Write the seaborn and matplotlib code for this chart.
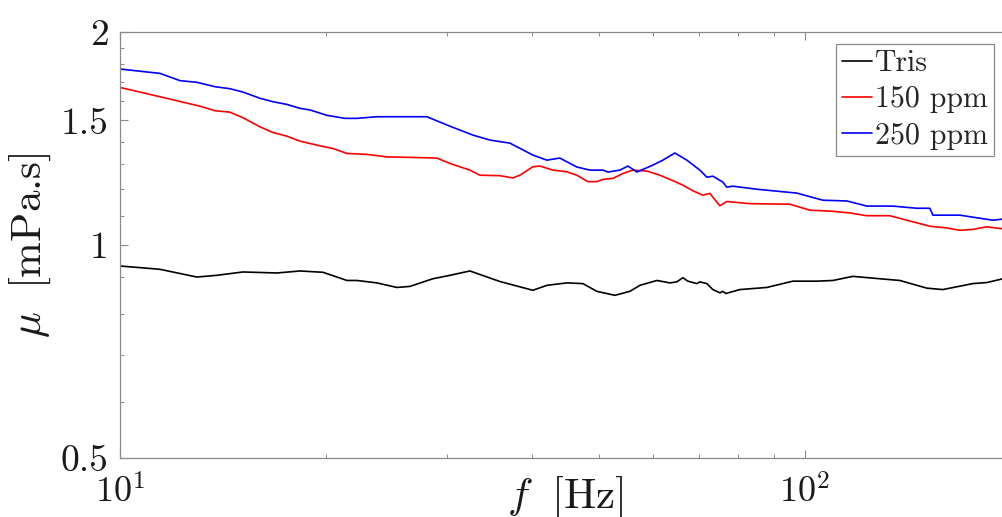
import matplotlib
matplotlib.use("Agg")
import numpy as np
import pandas as pd
import matplotlib.pyplot as plt
import seaborn as sns
from matplotlib.ticker import FixedLocator, FixedFormatter, NullFormatter, LogLocator

# Viscosity spectra (frequency in Hz, viscosity in mPa.s)
freq_tris = [10.0, 11.44, 12.95, 13.84, 15.12, 16.95, 18.32, 19.79, 21.45, 22.18,
             23.72, 25.37, 26.51, 28.63, 30.32, 32.43, 35.87, 40.08, 42.01, 44.93,
             47.41, 49.70, 52.80, 55.53, 57.43, 60.80, 63.52, 65.03, 66.35, 67.48,
             69.55, 70.26, 71.93, 73.40, 75.14, 75.91, 76.67, 80.36, 88.00, 96.05,
             104.1, 109.9, 117.5, 128.7, 137.6, 150.7, 159.0, 175.9, 184.4, 194.6, 200.0]
mu_tris = [0.934, 0.924, 0.901, 0.906, 0.916, 0.913, 0.919, 0.915, 0.891, 0.891,
           0.884, 0.871, 0.874, 0.896, 0.906, 0.919, 0.888, 0.863, 0.877, 0.884,
           0.882, 0.860, 0.849, 0.860, 0.877, 0.891, 0.884, 0.887, 0.899, 0.889,
           0.882, 0.887, 0.882, 0.865, 0.856, 0.860, 0.854, 0.865, 0.871, 0.889,
           0.889, 0.891, 0.903, 0.896, 0.891, 0.869, 0.865, 0.882, 0.885, 0.896, 0.898]

freq_150 = [10.0, 11.44, 13.09, 13.76, 14.47, 15.12, 16.01, 16.73, 17.53, 18.32,
            19.39, 20.46, 21.45, 22.94, 24.54, 26.51, 29.02, 30.32, 32.43, 33.54,
            35.87, 37.47, 38.36, 40.08, 41.03, 42.86, 44.93, 46.46, 48.21, 49.70,
            50.72, 52.45, 54.25, 56.09, 58.79, 61.42, 64.16, 66.35, 68.62, 70.97,
            72.66, 75.14, 76.92, 83.11, 95.08, 101.7, 109.9, 116.3, 123.2, 133.1,
            140.9, 152.2, 161.2, 168.4, 175.9, 184.4, 194.6, 200.0]
mu_150 = [1.670, 1.620, 1.571, 1.548, 1.541, 1.513, 1.469, 1.442, 1.425, 1.402,
          1.384, 1.369, 1.347, 1.343, 1.332, 1.330, 1.327, 1.304, 1.276, 1.255,
          1.253, 1.244, 1.255, 1.290, 1.293, 1.276, 1.269, 1.255, 1.229, 1.229,
          1.238, 1.242, 1.262, 1.276, 1.272, 1.255, 1.233, 1.215, 1.193, 1.176,
          1.183, 1.136, 1.152, 1.144, 1.142, 1.120, 1.116, 1.110, 1.100, 1.100,
          1.084, 1.063, 1.057, 1.049, 1.052, 1.061, 1.054, 1.054]

freq_250 = [10.0, 11.44, 12.24, 12.95, 13.76, 14.47, 15.12, 16.01, 16.73, 17.53,
            18.32, 18.94, 20.05, 21.31, 22.18, 23.72, 25.63, 28.07, 30.32, 32.76,
            34.69, 37.10, 40.08, 42.01, 43.88, 46.46, 48.53, 50.72, 51.58, 53.70,
            55.16, 56.85, 59.99, 62.04, 64.60, 67.25, 70.26, 71.93, 73.40, 75.91,
            76.92, 78.50, 85.08, 97.34, 106.2, 115.2, 123.2, 134.4, 145.7, 152.2,
            153.8, 168.4, 188.1, 194.6, 200.0]
mu_250 = [1.773, 1.748, 1.707, 1.698, 1.674, 1.663, 1.645, 1.612, 1.594, 1.580,
          1.560, 1.552, 1.525, 1.510, 1.510, 1.518, 1.518, 1.518, 1.472, 1.430,
          1.407, 1.393, 1.340, 1.318, 1.327, 1.289, 1.276, 1.276, 1.268, 1.276,
          1.293, 1.268, 1.297, 1.318, 1.349, 1.318, 1.276, 1.247, 1.251, 1.227,
          1.207, 1.211, 1.199, 1.184, 1.157, 1.154, 1.135, 1.135, 1.127, 1.127,
          1.102, 1.102, 1.084, 1.088, 1.090]

series_labels = ["Tris", "150 ppm", "250 ppm"]
series_colors = ["black", "red", "blue"]

ytick_values = [0.5, 1, 1.5, 2]
ytick_labels = ["0.5", "1", "1.5", "2"]
xtick_values = [10, 100]
xtick_labels = [r"$10^{1}$", r"$10^{2}$"]

df = pd.concat([
    pd.DataFrame({"f": freq_tris, "mu": mu_tris, "sample": series_labels[0]}),
    pd.DataFrame({"f": freq_150, "mu": mu_150, "sample": series_labels[1]}),
    pd.DataFrame({"f": freq_250, "mu": mu_250, "sample": series_labels[2]}),
], ignore_index=True)

sns.set_style("ticks")
plt.rcParams["font.family"] = ["cmr10"]
plt.rcParams["mathtext.fontset"] = "cm"
plt.rcParams["axes.unicode_minus"] = False
plt.rcParams["axes.formatter.use_mathtext"] = True

fig = plt.figure(figsize=(10.03, 5.17), dpi=100)
ax = fig.add_axes([0.1196, 0.1141, 0.8884, 0.8240])

sns.lineplot(data=df, x="f", y="mu", hue="sample", hue_order=series_labels,
             palette=dict(zip(series_labels, series_colors)),
             estimator=None, sort=True, linewidth=1.2, legend=False, ax=ax)

ax.set_xscale("log")
ax.set_yscale("log")
ax.set_xlim(10, 200)
ax.set_ylim(0.5, 2)

ax.yaxis.set_major_locator(FixedLocator(ytick_values))
ax.yaxis.set_major_formatter(FixedFormatter(ytick_labels))
ax.yaxis.set_minor_locator(FixedLocator([0.6, 0.7, 0.8, 0.9, 1.1, 1.2, 1.3, 1.4,
                                         1.6, 1.7, 1.8, 1.9]))
ax.yaxis.set_minor_formatter(NullFormatter())
ax.xaxis.set_major_locator(FixedLocator(xtick_values))
ax.xaxis.set_major_formatter(FixedFormatter(xtick_labels))
ax.xaxis.set_minor_locator(LogLocator(base=10, subs=np.arange(2, 10)))
ax.xaxis.set_minor_formatter(NullFormatter())

spine_gray = "#8a8a8a"
for s in ax.spines.values():
    s.set_color(spine_gray)
    s.set_linewidth(0.9)
ax.tick_params(which="both", direction="in", top=True, right=True,
               color=spine_gray, labelcolor="#1a1a1a")
ax.tick_params(which="major", length=5.5, width=0.8)
ax.tick_params(which="minor", length=3, width=0.7)
ax.tick_params(axis="y", labelsize=27, pad=8)
ax.tick_params(axis="x", labelsize=26, pad=12)

ax.set_xlabel(r"$f\ \;[\mathrm{Hz}]$", fontsize=31, color="#1a1a1a")
ax.xaxis.set_label_coords(0.5, -0.04)
ax.set_ylabel(r"$\mu\ \;$[mPa.s]", fontsize=31, color="#1a1a1a")
ax.yaxis.set_label_coords(-0.075, 0.5)

leg = ax.legend(handles=ax.lines[:3], labels=series_labels, loc="upper right",
                bbox_to_anchor=(994 / 1003, 1 - 44 / 517), bbox_transform=fig.transFigure,
                borderaxespad=0, fontsize=21.5, frameon=True, fancybox=False,
                framealpha=1, edgecolor=spine_gray, handlelength=1.0,
                handletextpad=0.1, borderpad=0.2, labelspacing=0.29)
leg.get_frame().set_linewidth(0.9)

fig.savefig("out.png", dpi=100)
